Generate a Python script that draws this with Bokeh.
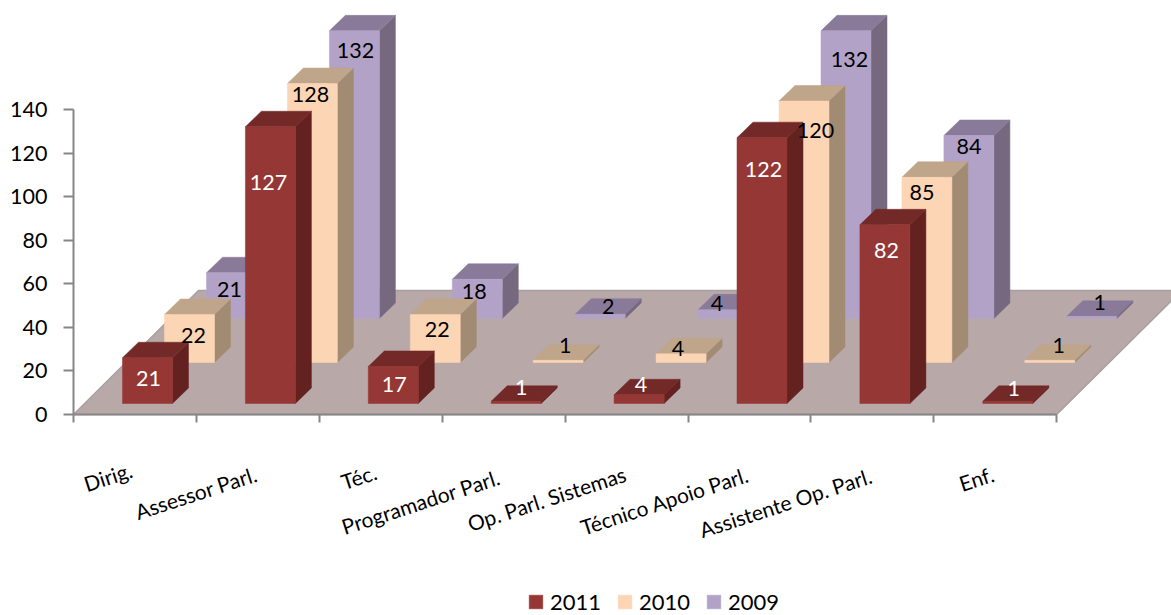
from bokeh.plotting import figure
from bokeh.models import Range1d, LinearAxis, FixedTicker, Legend, LegendItem, ColumnDataSource
from bokeh.core.properties import value
from bokeh.embed import file_html
from bokeh.resources import INLINE

categories = ["Dirig.", "Assessor Parl.", "Téc.", "Programador Parl.", "Op. Parl. Sistemas",
              "Técnico Apoio Parl.", "Assistente Op. Parl.", "Enf."]
years = ["2011", "2010", "2009"]
values_2011 = [21, 127, 17, 1, 4, 122, 82, 1]
values_2010 = [22, 128, 22, 1, 4, 120, 85, 1]
values_2009 = [21, 132, 18, 2, 4, 132, 84, 1]
y_ticks = [0, 20, 40, 60, 80, 100, 120, 140]

# ---- layout and style (screen pixels) ----
W, H = 1171, 615
CAT_PX, VAL_PX = 122.9, 2.179
AXIS_X, AXIS_Y = 73, 414          # where the axes cross, in figure pixels
FONT = "Lato"
px_x = lambda px: px / CAT_PX
px_y = lambda px: px / VAL_PX

BAR_LEFT, BAR_W = px_x(49), px_x(50)
DEPTH_DX, DEPTH_DY = px_x(16), px_y(15.5)
SERIES_DX = px_x(42)
SERIES_BASE = [px_y(11), px_y(52), px_y(96)]
FRONT = ["#953735", "#FCD5B5", "#B3A2C7"]
TOP = ["#722927", "#BFA58A", "#887A98"]
SIDE = ["#632220", "#A28B73", "#75687F"]
LABEL_COL = ["white", "black", "black"]
LABEL_DX = [[1, -2, 1, 5, 2, 1.5, 1.6, 6], [4, -2, 2, 7, -3, 11.5, -5, 9], [-2, 1, -3, 8, -6, 3.5, 0, 8]]
LABEL_DY = [[21, 56, 18, -14, -10, 32, 26, -13], [21, 11, 15, -15, -5, 29.5, 15, -15], [17, 20, 12, -8, -6, 29, 11, -14]]
CAT_DX = [-27, -62, -22, -83, -80, -85, -87, -19]
CAT_DY = [62, 78, 62, 87, 84, 86, 88, 64]

p = figure(width=W, height=H, output_backend="svg", toolbar_location=None,
           x_axis_location=None, y_axis_location=None, min_border=0,
           x_range=Range1d(-AXIS_X / CAT_PX, (W - AXIS_X) / CAT_PX),
           y_range=Range1d(-(H - AXIS_Y) / VAL_PX, AXIS_Y / VAL_PX),
           background_fill_color="white", border_fill_color="white")
p.outline_line_color = None
p.grid.visible = False

# floor
n = len(categories)
fx, fy = px_x(125), px_y(124)
p.patch([0, n, n + fx, fx], [0, 0, fy, fy], fill_color="#B9A8A8",
        line_color="#A6A0A0", line_width=1.5)

series = [values_2011, values_2010, values_2009]
front_renderers = {}
for s in [2, 1, 0]:
    f = dict(xs=[], ys=[]); t = dict(xs=[], ys=[]); d = dict(xs=[], ys=[])
    for i, v in enumerate(series[s]):
        x0 = i + BAR_LEFT + s * SERIES_DX
        x1 = x0 + BAR_W
        b = SERIES_BASE[s]
        h = b + v
        f["xs"].append([x0, x1, x1, x0]); f["ys"].append([b, b, h, h])
        t["xs"].append([x0, x1, x1 + DEPTH_DX, x0 + DEPTH_DX]); t["ys"].append([h, h, h + DEPTH_DY, h + DEPTH_DY])
        d["xs"].append([x1, x1 + DEPTH_DX, x1 + DEPTH_DX, x1]); d["ys"].append([b, b + DEPTH_DY, h + DEPTH_DY, h])
    p.patches(source=ColumnDataSource(d), xs="xs", ys="ys", fill_color=SIDE[s], line_color=SIDE[s], line_width=0.5)
    p.patches(source=ColumnDataSource(t), xs="xs", ys="ys", fill_color=TOP[s], line_color=TOP[s], line_width=0.5)
    front_renderers[s] = p.patches(source=ColumnDataSource(f), xs="xs", ys="ys", fill_color=FRONT[s],
                                   line_color=FRONT[s], line_width=0.5)

# value labels
for s in [2, 1, 0]:
    xs = [i + BAR_LEFT + s * SERIES_DX + BAR_W / 2 for i in range(n)]
    ys = [SERIES_BASE[s] + v for v in series[s]]
    src = ColumnDataSource(dict(x=xs, y=ys, t=[str(v) for v in series[s]],
                                dx=LABEL_DX[s], dy=LABEL_DY[s]))
    p.text(source=src, x="x", y="y", text="t", x_offset="dx", y_offset="dy",
           text_align="center", text_baseline="middle", text_color=LABEL_COL[s],
           text_font=value(FONT), text_font_size="21.5px")

# category labels
src = ColumnDataSource(dict(x=[i + 0.5 for i in range(n)], y=[0] * n, t=categories, dx=CAT_DX, dy=CAT_DY))
p.text(source=src, x="x", y="y", text="t", x_offset="dx", y_offset="dy", angle=18, angle_units="deg",
       text_align="center", text_baseline="middle", text_color="black",
       text_font=value(FONT), text_font_size="21px")

# axes
AX = "#868686"
ya = LinearAxis(fixed_location=0, ticker=FixedTicker(ticks=y_ticks), bounds=(0, 140),
                axis_line_color=AX, axis_line_width=2, major_tick_line_color=AX, major_tick_line_width=2,
                major_tick_in=0, major_tick_out=10, minor_tick_line_color=None,
                major_label_standoff=16, major_label_text_font=FONT, major_label_text_font_size="21.5px",
                major_label_text_color="black")
p.add_layout(ya, "left")
xa = LinearAxis(fixed_location=0, ticker=FixedTicker(ticks=list(range(n + 1))), bounds=(0, n),
                axis_line_color=AX, axis_line_width=2, major_tick_line_color=AX, major_tick_line_width=2,
                major_tick_in=0, major_tick_out=8, minor_tick_line_color=None,
                major_label_overrides={i: "" for i in range(n + 1)})
p.add_layout(xa, "below")

legend = Legend(items=[LegendItem(label=years[s], renderers=[front_renderers[s]]) for s in range(3)],
                orientation="horizontal", location=(527, 0), border_line_color=None,
                background_fill_alpha=0, padding=0, margin=0, spacing=15,
                glyph_width=17, glyph_height=17, label_standoff=6,
                label_text_font=FONT, label_text_font_size="22px", label_text_color="black")
p.add_layout(legend, "center")

open("out.html", "w").write(file_html(p, INLINE))
